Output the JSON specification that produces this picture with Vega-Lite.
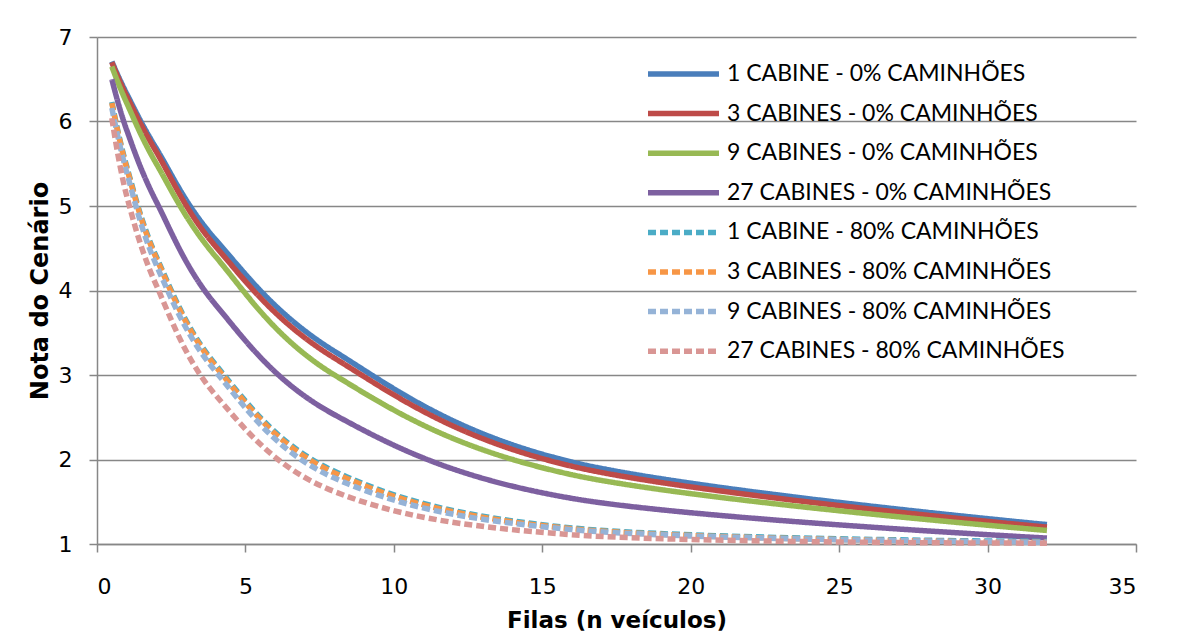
{
  "$schema": "https://vega.github.io/schema/vega-lite/v6.json",
  "width": 1039,
  "height": 507,
  "autosize": {"type": "none"},
  "padding": {"left": 97, "top": 37, "right": 41, "bottom": 93},
  "background": "white",
  "config": {"view": {"stroke": null}, "font": "DejaVu Sans"},
  "datasets": {
    "d": [
      {"x":0.5,"y":6.71,"s":"1 CABINE - 0% CAMINHÕES"},{"x":1,"y":6.33,"s":"1 CABINE - 0% CAMINHÕES"},{"x":2,"y":5.68,"s":"1 CABINE - 0% CAMINHÕES"},{"x":4,"y":4.6,"s":"1 CABINE - 0% CAMINHÕES"},{"x":8,"y":3.28,"s":"1 CABINE - 0% CAMINHÕES"},{"x":16,"y":1.97,"s":"1 CABINE - 0% CAMINHÕES"},{"x":32,"y":1.23,"s":"1 CABINE - 0% CAMINHÕES"},
      {"x":0.5,"y":6.70,"s":"3 CABINES - 0% CAMINHÕES"},{"x":1,"y":6.30,"s":"3 CABINES - 0% CAMINHÕES"},{"x":2,"y":5.64,"s":"3 CABINES - 0% CAMINHÕES"},{"x":4,"y":4.52,"s":"3 CABINES - 0% CAMINHÕES"},{"x":8,"y":3.20,"s":"3 CABINES - 0% CAMINHÕES"},{"x":16,"y":1.92,"s":"3 CABINES - 0% CAMINHÕES"},{"x":32,"y":1.20,"s":"3 CABINES - 0% CAMINHÕES"},
      {"x":0.5,"y":6.65,"s":"9 CABINES - 0% CAMINHÕES"},{"x":1,"y":6.22,"s":"9 CABINES - 0% CAMINHÕES"},{"x":2,"y":5.5,"s":"9 CABINES - 0% CAMINHÕES"},{"x":4,"y":4.4,"s":"9 CABINES - 0% CAMINHÕES"},{"x":8,"y":3.0,"s":"9 CABINES - 0% CAMINHÕES"},{"x":16,"y":1.82,"s":"9 CABINES - 0% CAMINHÕES"},{"x":32,"y":1.16,"s":"9 CABINES - 0% CAMINHÕES"},
      {"x":0.5,"y":6.50,"s":"27 CABINES - 0% CAMINHÕES"},{"x":1,"y":5.9,"s":"27 CABINES - 0% CAMINHÕES"},{"x":2,"y":5.05,"s":"27 CABINES - 0% CAMINHÕES"},{"x":4,"y":3.83,"s":"27 CABINES - 0% CAMINHÕES"},{"x":8,"y":2.53,"s":"27 CABINES - 0% CAMINHÕES"},{"x":16,"y":1.54,"s":"27 CABINES - 0% CAMINHÕES"},{"x":32,"y":1.07,"s":"27 CABINES - 0% CAMINHÕES"},
      {"x":0.5,"y":6.23,"s":"1 CABINE - 80% CAMINHÕES"},{"x":1,"y":5.47,"s":"1 CABINE - 80% CAMINHÕES"},{"x":2,"y":4.4,"s":"1 CABINE - 80% CAMINHÕES"},{"x":4,"y":3.12,"s":"1 CABINE - 80% CAMINHÕES"},{"x":8,"y":1.86,"s":"1 CABINE - 80% CAMINHÕES"},{"x":16,"y":1.19,"s":"1 CABINE - 80% CAMINHÕES"},{"x":32,"y":1.03,"s":"1 CABINE - 80% CAMINHÕES"},
      {"x":0.5,"y":6.22,"s":"3 CABINES - 80% CAMINHÕES"},{"x":1,"y":5.45,"s":"3 CABINES - 80% CAMINHÕES"},{"x":2,"y":4.38,"s":"3 CABINES - 80% CAMINHÕES"},{"x":4,"y":3.1,"s":"3 CABINES - 80% CAMINHÕES"},{"x":8,"y":1.84,"s":"3 CABINES - 80% CAMINHÕES"},{"x":16,"y":1.18,"s":"3 CABINES - 80% CAMINHÕES"},{"x":32,"y":1.02,"s":"3 CABINES - 80% CAMINHÕES"},
      {"x":0.5,"y":6.16,"s":"9 CABINES - 80% CAMINHÕES"},{"x":1,"y":5.4,"s":"9 CABINES - 80% CAMINHÕES"},{"x":2,"y":4.3,"s":"9 CABINES - 80% CAMINHÕES"},{"x":4,"y":3.04,"s":"9 CABINES - 80% CAMINHÕES"},{"x":8,"y":1.78,"s":"9 CABINES - 80% CAMINHÕES"},{"x":16,"y":1.17,"s":"9 CABINES - 80% CAMINHÕES"},{"x":32,"y":1.02,"s":"9 CABINES - 80% CAMINHÕES"},
      {"x":0.5,"y":6.04,"s":"27 CABINES - 80% CAMINHÕES"},{"x":1,"y":5.12,"s":"27 CABINES - 80% CAMINHÕES"},{"x":2,"y":4.06,"s":"27 CABINES - 80% CAMINHÕES"},{"x":4,"y":2.76,"s":"27 CABINES - 80% CAMINHÕES"},{"x":8,"y":1.62,"s":"27 CABINES - 80% CAMINHÕES"},{"x":16,"y":1.11,"s":"27 CABINES - 80% CAMINHÕES"},{"x":32,"y":1.01,"s":"27 CABINES - 80% CAMINHÕES"}
    ]
  },
  "data": {"name": "d"},
  "mark": {"type": "line", "interpolate": "cardinal", "tension": 0},
  "encoding": {
    "x": {
      "field": "x", "type": "quantitative",
      "scale": {"domain": [0, 35], "nice": false, "zero": false},
      "axis": {
        "values": [0, 5, 10, 15, 20, 25, 30, 35],
        "title": "Filas (n veículos)",
        "grid": false,
        "domainColor": "#878787", "domainWidth": 1.5,
        "tickColor": "#878787", "tickWidth": 1.5, "tickSize": 8,
        "labelFont": "DejaVu Sans", "labelFontSize": 22, "labelColor": "#000000", "labelPadding": 24,
        "titleFont": "DejaVu Sans", "titleFontSize": 23, "titleFontWeight": "bold", "titleColor": "#000000",
        "titleBaseline": "alphabetic", "titleY": 83
      }
    },
    "y": {
      "field": "y", "type": "quantitative",
      "scale": {"domain": [1, 7], "nice": false, "zero": false},
      "axis": {
        "values": [1, 2, 3, 4, 5, 6, 7],
        "title": "Nota do Cenário",
        "grid": true, "gridColor": "#878787", "gridWidth": 1.5,
        "domainColor": "#878787", "domainWidth": 1.5,
        "tickColor": "#878787", "tickWidth": 1.5, "tickSize": 8,
        "labelFont": "DejaVu Sans", "labelFontSize": 22, "labelColor": "#000000", "labelPadding": 17,
        "titleFont": "DejaVu Sans", "titleFontSize": 24, "titleFontWeight": "bold", "titleColor": "#000000",
        "titleBaseline": "alphabetic", "titleX": -50
      }
    },
    "color": {
      "field": "s", "type": "nominal",
      "scale": {
        "domain": ["1 CABINE - 0% CAMINHÕES", "3 CABINES - 0% CAMINHÕES", "9 CABINES - 0% CAMINHÕES", "27 CABINES - 0% CAMINHÕES", "1 CABINE - 80% CAMINHÕES", "3 CABINES - 80% CAMINHÕES", "9 CABINES - 80% CAMINHÕES", "27 CABINES - 80% CAMINHÕES"],
        "range": ["#4A7EBB", "#BE4B48", "#98B954", "#7D60A0", "#4BACC6", "#F79646", "#95B3D7", "#D99694"]
      },
      "legend": {"title": null, "orient": "none", "legendX": 548, "legendY": 26, "padding": 0, "symbolType": "stroke", "symbolSize": 5041, "clipHeight": 22, "rowPadding": 16.6, "labelFont": "Lato", "labelFontSize": 23, "labelColor": "#000000", "labelOffset": 5, "labelLimit": 500}
    },
    "strokeDash": {
      "field": "s", "type": "nominal",
      "scale": {
        "domain": ["1 CABINE - 0% CAMINHÕES", "3 CABINES - 0% CAMINHÕES", "9 CABINES - 0% CAMINHÕES", "27 CABINES - 0% CAMINHÕES", "1 CABINE - 80% CAMINHÕES", "3 CABINES - 80% CAMINHÕES", "9 CABINES - 80% CAMINHÕES", "27 CABINES - 80% CAMINHÕES"],
        "range": [[1, 0], [1, 0], [1, 0], [1, 0], [8, 4], [8, 4], [8, 4], [8, 4]]
      },
      "legend": {"title": null, "orient": "none", "legendX": 548, "legendY": 26, "padding": 0, "symbolType": "stroke", "symbolSize": 5041, "clipHeight": 22, "rowPadding": 16.6, "labelFont": "Lato", "labelFontSize": 23, "labelColor": "#000000", "labelOffset": 5, "labelLimit": 500}
    },
    "strokeWidth": {
      "field": "s", "type": "nominal",
      "scale": {
        "domain": ["1 CABINE - 0% CAMINHÕES", "3 CABINES - 0% CAMINHÕES", "9 CABINES - 0% CAMINHÕES", "27 CABINES - 0% CAMINHÕES", "1 CABINE - 80% CAMINHÕES", "3 CABINES - 80% CAMINHÕES", "9 CABINES - 80% CAMINHÕES", "27 CABINES - 80% CAMINHÕES"],
        "range": [5.5, 5.5, 5.5, 5.5, 3, 3, 3, 3]
      },
      "legend": {"title": null, "orient": "none", "legendX": 548, "legendY": 26, "padding": 0, "symbolType": "stroke", "symbolSize": 5041, "clipHeight": 22, "rowPadding": 16.6, "labelFont": "Lato", "labelFontSize": 23, "labelColor": "#000000", "labelOffset": 5, "labelLimit": 500}
    }
  }
}
